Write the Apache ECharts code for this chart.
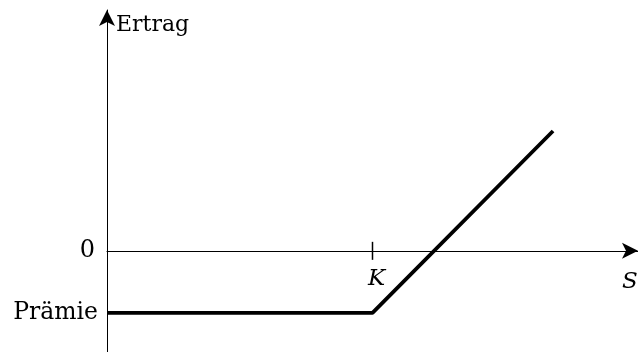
<!DOCTYPE html>
<html>
<head>
<meta charset="utf-8">
<script src="https://cdn.jsdelivr.net/npm/echarts@6/dist/echarts.min.js"></script>
<style>
    html, body { margin: 0; padding: 0; background: #fff; }
    #box { width: 638px; height: 352px; }
</style>
</head>
<body>
<div id="box"></div>
<script>
// Auszahlungsprofil mit Prämie
var payoffX = [0, 50, 84];
var payoffY = [-1, -1, 1.93];
var strikeX = [50];
var strikeLabel = ['K'];
var yTickValues = [0, -1];
var yTickLabels = ['0', 'Prämie'];

var serif = 'DejaVu Serif';

var myChart = echarts.init(document.getElementById('box'));
var option = {
    backgroundColor: '#fff',
    animation: false,
    grid: { left: 107, right: 0, top: 10, bottom: 0, outerBoundsMode: 'none', containLabel: false },
    xAxis: {
        type: 'value',
        min: 0,
        max: 100,
        name: '{s|S}{t|t}',
        nameLocation: 'end',
        nameGap: -16,
        nameTextStyle: {
            align: 'left',
            verticalAlign: 'top',
            padding: [20, 0, 0, 0],
            rich: {
                s: { fontFamily: serif, fontStyle: 'italic', fontSize: 23, color: '#000' },
                t: { fontFamily: serif, fontStyle: 'italic', fontSize: 15, color: '#000', verticalAlign: 'bottom', padding: [0, 0, -6, 0] }
            }
        },
        axisLine: {
            onZero: true,
            symbol: ['none', 'arrow'],
            symbolSize: [12, 16],
            lineStyle: { color: '#000', width: 1 }
        },
        axisTick: { show: false },
        splitLine: { show: false },
        axisLabel: { show: false }
    },
    yAxis: {
        type: 'value',
        min: -1.63,
        max: 3.88,
        name: 'Ertrag',
        nameLocation: 'end',
        nameGap: -15,
        nameTextStyle: {
            align: 'left',
            verticalAlign: 'middle',
            padding: [0, 0, 0, 9],
            fontFamily: serif,
            fontSize: 22,
            color: '#000'
        },
        axisLine: {
            onZero: false,
            symbol: ['none', 'arrow'],
            symbolSize: [12, 16],
            lineStyle: { color: '#000', width: 1 }
        },
        axisTick: { show: false },
        splitLine: { show: false },
        axisLabel: {
            customValues: yTickValues,
            formatter: function (v) {
                var i = yTickValues.indexOf(v);
                if (i < 0) return '';
                return (i === 0 ? '{z|' : '{p|') + yTickLabels[i] + '}';
            },
            margin: 9,
            color: '#000',
            rich: {
                z: { fontFamily: serif, fontSize: 24, color: '#000', padding: [0, 3, 0, 0] },
                p: { fontFamily: serif, fontSize: 23.5, color: '#000' }
            }
        }
    },
    series: [{
        type: 'line',
        data: payoffX.map(function (x, i) { return [x, payoffY[i]]; }),
        symbol: 'none',
        lineStyle: { color: '#000', width: 3.8 }
    }, {
        // Strich bei K auf der x-Achse, mit Beschriftung
        type: 'scatter',
        data: strikeX.map(function (x) { return [x, 0]; }),
        symbol: 'rect',
        symbolSize: [1.5, 18],
        itemStyle: { color: '#000', opacity: 1 },
        silent: true,
        label: {
            show: true,
            position: 'bottom',
            distance: 8,
            offset: [4, 0],
            formatter: function (p) { return '{k|' + strikeLabel[p.dataIndex] + '}'; },
            color: '#000',
            opacity: 1,
            rich: {
                k: { fontFamily: serif, fontStyle: 'italic', fontSize: 23, color: '#000' }
            }
        }
    }]
};
myChart.setOption(option);
</script>
</body>
</html>
